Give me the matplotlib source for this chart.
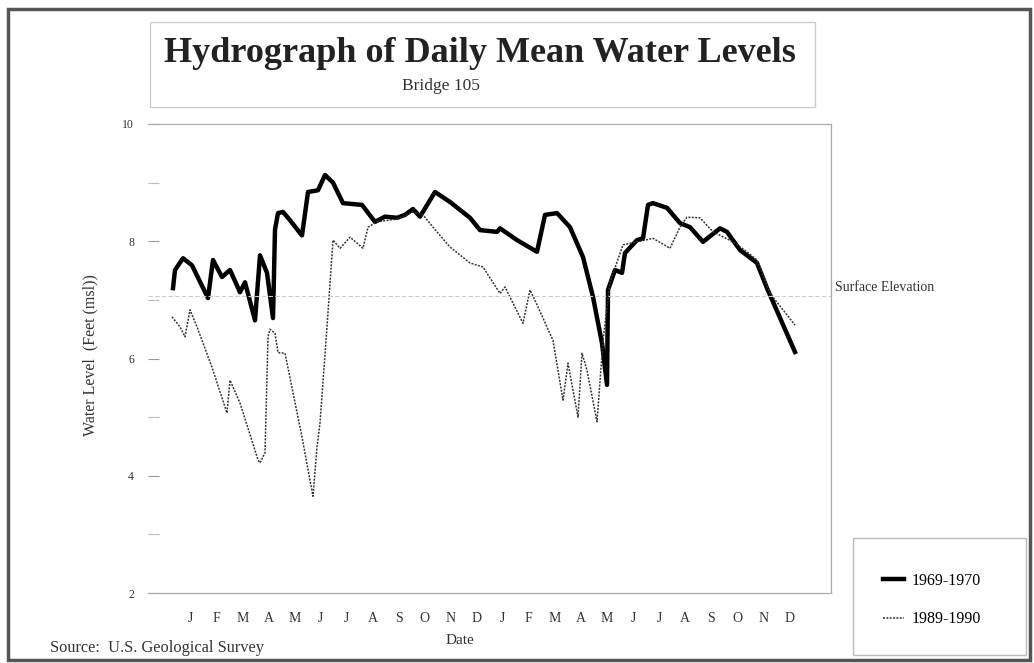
import matplotlib.pyplot as plt
from matplotlib.patches import Rectangle
from matplotlib.lines import Line2D

# x positions are read in pixels off the scan, converted to months from Jan (start)
PX0 = 172.0
PX_PER_MONTH = 26.05

# 1969-1970 (thick)
px_6970 = [173, 175, 183, 192, 208, 213, 222, 230, 240, 245, 255, 260, 267, 273, 275,
           278, 283, 290, 300, 302, 308, 318, 325, 333, 343, 362, 375, 385, 397, 405,
           413, 420, 435, 450, 470, 480, 497, 500, 517, 537, 545, 557, 570, 583, 593,
           602, 607, 608, 615, 622, 625, 637, 643, 648, 653, 667, 680, 690, 703, 720,
           727, 740, 757, 767, 795]
lvl_6970 = [7.20, 7.51, 7.71, 7.59, 7.03, 7.68, 7.39, 7.51, 7.13, 7.30, 6.65, 7.76, 7.46, 6.69, 8.20,
            8.48, 8.50, 8.36, 8.14, 8.10, 8.84, 8.87, 9.13, 9.00, 8.65, 8.62, 8.33, 8.42, 8.40, 8.45,
            8.55, 8.42, 8.84, 8.67, 8.40, 8.19, 8.16, 8.22, 8.02, 7.82, 8.45, 8.48, 8.24, 7.73, 7.05,
            6.26, 5.55, 7.17, 7.51, 7.46, 7.80, 8.02, 8.05, 8.62, 8.65, 8.57, 8.31, 8.24, 7.99, 8.22,
            8.16, 7.85, 7.63, 7.20, 6.11]

# 1989-1990 (thin)
px_8990 = [172, 180, 185, 190, 197, 212, 227, 230, 240, 258, 260, 265, 268, 270, 275,
           278, 285, 302, 313, 317, 320, 327, 333, 340, 350, 363, 368, 377, 397, 413,
           423, 433, 450, 470, 483, 500, 505, 523, 530, 538, 553, 563, 568, 578, 582,
           587, 597, 603, 610, 623, 640, 653, 670, 680, 687, 700, 713, 733, 747, 757,
           770, 795]
lvl_8990 = [6.71, 6.54, 6.37, 6.83, 6.54, 5.85, 5.07, 5.63, 5.24, 4.27, 4.22, 4.39, 6.37, 6.50, 6.43,
            6.10, 6.09, 4.66, 3.65, 4.49, 4.90, 6.54, 8.02, 7.88, 8.07, 7.88, 8.24, 8.33, 8.38, 8.50,
            8.45, 8.24, 7.90, 7.63, 7.56, 7.11, 7.22, 6.60, 7.17, 6.88, 6.31, 5.29, 5.92, 5.00, 6.09,
            5.80, 4.92, 6.30, 7.30, 7.94, 8.00, 8.05, 7.88, 8.24, 8.41, 8.40, 8.16, 7.99, 7.82, 7.68,
            7.11, 6.57]

surface_elev = 7.06
months = ['J', 'F', 'M', 'A', 'M', 'J', 'J', 'A', 'S', 'O', 'N', 'D'] * 2

t_6970 = [(p - PX0) / PX_PER_MONTH for p in px_6970]
t_8990 = [(p - PX0) / PX_PER_MONTH for p in px_8990]

serif = ['Liberation Serif', 'DejaVu Serif']
plt.rcParams['font.family'] = serif

fig = plt.figure(figsize=(10.34, 6.63), dpi=100)
ax = fig.add_axes([148 / 1034, 1 - 593 / 663, 683 / 1034, 469 / 663])

thin_style = (0, (1.3, 0.9))
ax.plot(t_6970, lvl_6970, color='black', lw=3.2, solid_joinstyle='round')
ax.plot(t_8990, lvl_8990, color='#333333', lw=1.1, linestyle=thin_style)
ax.axhline(surface_elev, color='#cccccc', lw=0.8, linestyle=(0, (4, 2)))

ax.set_xlim((148 - PX0) / PX_PER_MONTH, (831 - PX0) / PX_PER_MONTH)
ax.set_ylim(2, 10)

ax.set_yticks([2, 4, 6, 8, 10])
ax.set_yticks([3, 5, 7, 9], minor=True)
ax.tick_params(axis='y', direction='in', length=8, width=0.8, color='#999999',
               labelsize=8.5, pad=10, labelcolor='#333333')
ax.tick_params(axis='y', which='minor', direction='in', length=8, width=0.8, color='#bbbbbb')

ax.set_xticks([i + 0.7 for i in range(24)])
ax.set_xticklabels(months, fontsize=10, color='#333333')
ax.tick_params(axis='x', length=0, pad=14)

for side in ['top', 'right', 'bottom']:
    ax.spines[side].set_color('#aaaaaa')
    ax.spines[side].set_linewidth(0.9)
ax.spines['left'].set_visible(False)

ax.text((835 - PX0) / PX_PER_MONTH, surface_elev + 0.04, 'Surface Elevation',
        fontsize=10, color='#333333', va='bottom', ha='left', clip_on=False)

fig.text(90 / 1034, 1 - 355 / 663, 'Water Level  (Feet (msl))', rotation=90,
         fontsize=11.5, ha='center', va='center', color='#333333')
fig.text(460 / 1034, 1 - 641 / 663, 'Date', fontsize=11, ha='center', va='center',
         color='#333333')
fig.text(50 / 1034, 1 - 648 / 663, 'Source:  U.S. Geological Survey', fontsize=11.8,
         ha='left', va='center', color='#333333')

# title box
fig.add_artist(Rectangle((150 / 1034, 1 - 107 / 663), 665 / 1034, 85 / 663,
                         transform=fig.transFigure, fill=False, ec='#cccccc', lw=1.0))
fig.text(480 / 1034, 1 - 53 / 663, 'Hydrograph of Daily Mean Water Levels',
         fontsize=26, fontweight='bold', ha='center', va='center', color='#222222')
fig.text(441 / 1034, 1 - 86 / 663, 'Bridge 105', fontsize=12.5, ha='center',
         va='center', color='#333333')

# legend box
fig.add_artist(Rectangle((853 / 1034, 1 - 655 / 663), 173 / 1034, 117 / 663,
                         transform=fig.transFigure, fill=False, ec='#bbbbbb', lw=1.0))
handles = [Line2D([], [], color='black', lw=3.2),
           Line2D([], [], color='#333333', lw=1.1, linestyle=thin_style)]
fig.legend(handles, ['1969-1970', '1989-1990'], loc='center',
           bbox_to_anchor=(932 / 1034, 1 - 600 / 663), frameon=False, fontsize=11.5,
           handlelength=1.3, handletextpad=0.5, labelspacing=1.4)

# outer frame
fig.add_artist(Rectangle((8 / 1034, 1 - 660 / 663), 1022 / 1034, 651 / 663,
                         transform=fig.transFigure, fill=False, ec='#555555', lw=2.5))

fig.savefig('out.png', dpi=100)
